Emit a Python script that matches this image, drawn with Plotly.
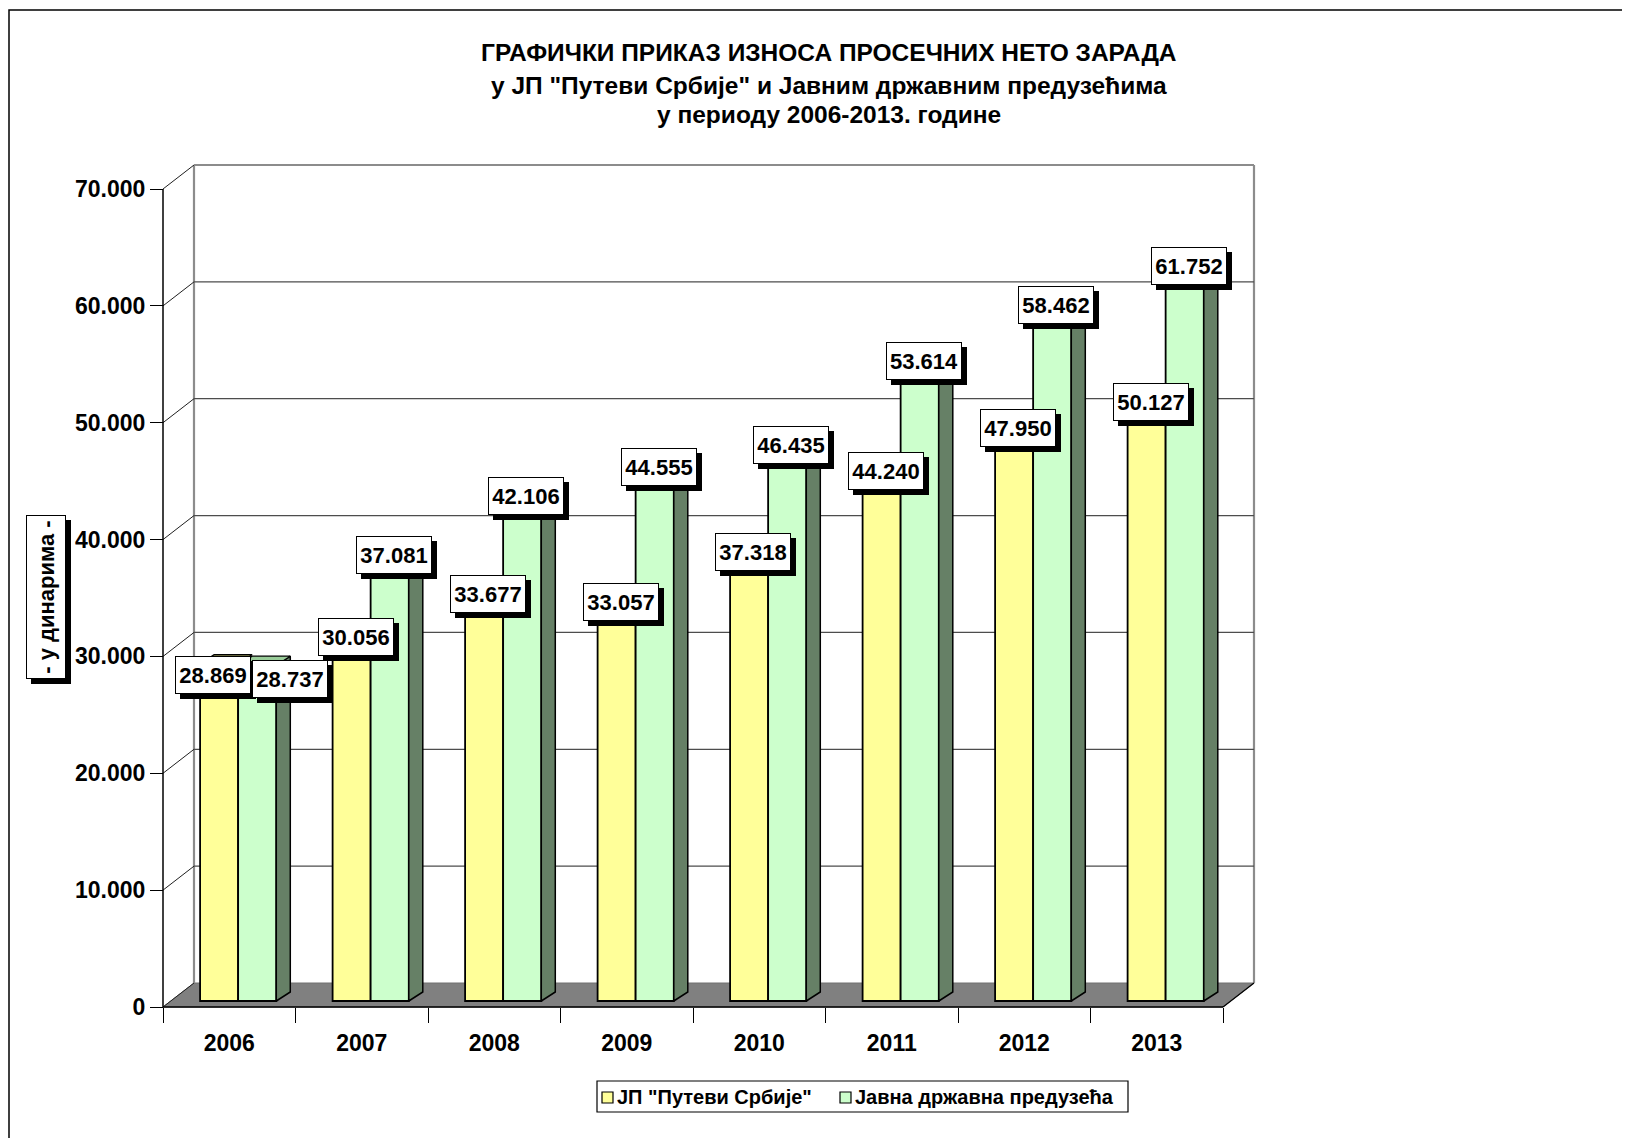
import plotly.graph_objects as go

# ---------------- data ----------------
years = ["2006", "2007", "2008", "2009", "2010", "2011", "2012", "2013"]
putevi = [28869, 30056, 33677, 33057, 37318, 44240, 47950, 50127]
javna = [28737, 37081, 42106, 44555, 46435, 53614, 58462, 61752]
y_tick_vals = [0, 10000, 20000, 30000, 40000, 50000, 60000, 70000]
y_tick_text = ["0", "10.000", "20.000", "30.000", "40.000", "50.000", "60.000", "70.000"]
series_names = ['ЈП "Путеви Србије"', "Јавна државна предузећа"]
title_lines = [
    "ГРАФИЧКИ ПРИКАЗ ИЗНОСА ПРОСЕЧНИХ НЕТО ЗАРАДА",
    'у ЈП "Путеви Србије" и Јавним државним предузећима',
    "у периоду 2006-2013. године",
]
y_title = "- у динарима -"

# ---------------- geometry (pixels, reference page coordinates) ----------------
OFF = 8  # default page margin of the html body
W, H = 1630 - OFF, 1138 - OFF
FONT = "Liberation Sans, Arial, sans-serif"
FRONT_X = 163.0 - OFF
ZERO_Y = 1007.0 - OFF
Y70 = 189.0 - OFF
CAT = (1223.0 - 163.0) / 8
PPU = (ZERO_Y - Y70) / 70000.0
DX = 31.0 / CAT
DY = 24.0 / PPU
x_lo = -7.0 / CAT
x_hi = 8 + DX + 5.0 / CAT
y_lo = -7.0 / PPU
y_hi = 70000 + DY + 5.0 / PPU
ml = FRONT_X + x_lo * CAT
mr = W - (FRONT_X + x_hi * CAT)
mt = ZERO_Y - y_hi * PPU
mb = H - (ZERO_Y - y_lo * PPU)
pw = W - ml - mr
ph = H - mt - mb


def px(x):  # reference page x -> paper
    return (x - OFF - ml) / pw


def py(y):  # reference page y -> paper
    return (H - mb - (y - OFF)) / ph


Y_L, Y_R = 0.28, 0.567
G_L, G_R = 0.567, 0.855
BASE = 6.0 / PPU
SDX = 14.0 / CAT
SDY = 9.0 / PPU

YELLOW = "#FFFF99"
GREEN = "#CCFFCC"
SIDE = "#668066"
YTOP = "#80804D"
GTOP = "#99CC99"

fig = go.Figure()

n = len(years)
fig.add_trace(go.Bar(
    x=[i + (Y_L + Y_R) / 2 for i in range(n)], y=putevi, base=BASE,
    width=Y_R - Y_L, name=series_names[0], showlegend=False,
    marker=dict(color=YELLOW, line=dict(color="black", width=1.8)),
    hoverinfo="skip",
))
fig.add_trace(go.Bar(
    x=[i + (G_L + G_R) / 2 for i in range(n)], y=javna, base=BASE,
    width=G_R - G_L, name=series_names[1], showlegend=False,
    marker=dict(color=GREEN, line=dict(color="black", width=1.8)),
    hoverinfo="skip",
))

# side faces of green bars
sx, sy = [], []
for i, v in enumerate(javna):
    xr = i + G_R
    t = BASE + v
    sx += [xr, xr + SDX, xr + SDX, xr, xr, None]
    sy += [BASE, BASE + SDY, t + SDY, t, BASE, None]
fig.add_trace(go.Scatter(x=sx, y=sy, mode="lines", fill="toself", fillcolor=SIDE,
                         line=dict(color="black", width=1.5), showlegend=False, hoverinfo="skip"))

# top faces
tx, ty = [], []
for i, (vy, vg) in enumerate(zip(putevi, javna)):
    xl, xr = i + Y_L, i + Y_R
    t, tg = BASE + vy, BASE + vg
    if tg >= t + SDY:
        tx += [xl, xl + SDX, xr, xr, xl, None]
    else:
        tx += [xl, xl + SDX, xr + SDX, xr, xl, None]
    ty += [t, t + SDY, t + SDY, t, t, None]
fig.add_trace(go.Scatter(x=tx, y=ty, mode="lines", fill="toself", fillcolor=YTOP,
                         line=dict(color="black", width=1.2), showlegend=False, hoverinfo="skip"))
gx, gy = [], []
for i, vg in enumerate(javna):
    xl, xr = i + G_L, i + G_R
    tg = BASE + vg
    gx += [xl, xl + SDX, xr + SDX, xr, xl, None]
    gy += [tg, tg + SDY, tg + SDY, tg, tg, None]
fig.add_trace(go.Scatter(x=gx, y=gy, mode="lines", fill="toself", fillcolor=GTOP,
                         line=dict(color="black", width=1.2), showlegend=False, hoverinfo="skip"))

# ---------------- walls, floor, axes (shapes below traces) ----------------
shapes = []
shapes.append(dict(type="path", xref="x", yref="y", layer="below",
                   path=f"M 0,0 L {n},0 L {n + DX},{DY} L {DX},{DY} Z",
                   fillcolor="#808080", line=dict(color="#707070", width=1)))
wall_top = 70000 + DY
for (a, b, c, d) in [(DX, DY, DX, wall_top), (DX, wall_top, n + DX, wall_top), (n + DX, DY, n + DX, wall_top)]:
    shapes.append(dict(type="line", xref="x", yref="y", layer="below",
                       x0=a, y0=b, x1=c, y1=d, line=dict(color="#8C8C8C", width=2.2)))
for v in y_tick_vals[1:-1]:
    shapes.append(dict(type="line", xref="x", yref="y", layer="below",
                       x0=DX, y0=v + DY, x1=n + DX, y1=v + DY, line=dict(color="#4D4D4D", width=1.2)))
for v in y_tick_vals:
    shapes.append(dict(type="line", xref="x", yref="y", layer="below",
                       x0=0, y0=v, x1=DX, y1=v + DY, line=dict(color="#202020", width=1)))
shapes.append(dict(type="line", xref="x", yref="y", layer="below",
                   x0=0, y0=0, x1=0, y1=70000, line=dict(color="black", width=1.5)))
shapes.append(dict(type="line", xref="x", yref="y", layer="below",
                   x0=0, y0=0, x1=n, y1=0, line=dict(color="black", width=1.5)))
shapes.append(dict(type="line", xref="x", yref="y", layer="below",
                   x0=n, y0=0, x1=n + DX, y1=DY, line=dict(color="black", width=1.2)))
# outer frame
shapes.append(dict(type="rect", xref="paper", yref="paper", layer="below",
                   x0=px(9), y0=py(1170), x1=px(1680), y1=py(10),
                   line=dict(color="black", width=1.5), fillcolor="rgba(0,0,0,0)"))

# legend (drawn by hand to match the compact box of the reference)
shapes.append(dict(type="rect", xref="paper", yref="paper", layer="above",
                   x0=px(597), y0=py(1112), x1=px(1128), y1=py(1081),
                   line=dict(color="black", width=1.2), fillcolor="white"))
for (x0, col) in [(602, YELLOW), (840, GREEN)]:
    shapes.append(dict(type="rect", xref="paper", yref="paper", layer="above",
                       x0=px(x0), y0=py(1103), x1=px(x0 + 11), y1=py(1092),
                       line=dict(color="black", width=1.2), fillcolor=col))

# ---------------- annotations ----------------
ann = []
for k, line in enumerate(title_lines):
    ann.append(dict(xref="paper", yref="paper", x=px(829), y=py([52, 85, 114][k]),
                    xanchor="center", yanchor="middle", showarrow=False, text=line,
                    font=dict(family=FONT, size=24.5, color="black", weight="bold")))

for (x0, name) in [(615, series_names[0]), (853, series_names[1])]:
    ann.append(dict(xref="paper", yref="paper", x=px(x0), y=py(1097),
                    xanchor="left", yanchor="middle", showarrow=False, text=name,
                    font=dict(family=FONT, size=20, color="black", weight="bold")))


def boxed(x, y, text, xs, ys, bw, bh, xref="x", yref="y", angle=0, size=22, pad=3):
    common = dict(xref=xref, yref=yref, x=x, y=y, showarrow=False,
                  xanchor="center", yanchor="middle", textangle=angle,
                  width=bw, height=bh, borderwidth=1, borderpad=pad, align="center")
    shadow = dict(common, text="\u00a0", xshift=xs + 5, yshift=ys - 5,
                  bgcolor="black", bordercolor="black",
                  font=dict(family=FONT, size=size, color="black"))
    main = dict(common, text=text, xshift=xs, yshift=ys,
                bgcolor="white", bordercolor="black",
                font=dict(family=FONT, size=size, color="black", weight="bold"))
    return [shadow, main]


def fmt(v):
    return f"{v:,}".replace(",", ".")


LBW, LBH = 68, 30
ylab, glab = [], []
for i, (vy, vg) in enumerate(zip(putevi, javna)):
    close = abs(vy - vg) * PPU < 40
    if close:
        ylab += boxed(i + (Y_L + Y_R) / 2, BASE + vy, fmt(vy), -6, -11, LBW, LBH)
        glab += boxed(i + (G_L + G_R) / 2, BASE + vg, fmt(vg), 33, -14, LBW, LBH)
    else:
        ylab += boxed(i + (Y_L + Y_R) / 2, BASE + vy, fmt(vy), 4, 13, LBW, LBH)
        glab += boxed(i + (G_L + G_R) / 2, BASE + vg, fmt(vg), 4, 13, LBW, LBH)
ann += ylab + glab

ann += boxed(px(46), py(597), y_title, 0, 0, 152, 28, xref="paper", yref="paper",
             angle=-90, size=22, pad=5)

fig.update_layout(
    width=W, height=H,
    margin=dict(l=ml, r=mr, t=mt, b=mb, pad=0, autoexpand=False),
    paper_bgcolor="white", plot_bgcolor="white",
    barmode="overlay",
    showlegend=False,
    xaxis=dict(range=[x_lo, x_hi], domain=[0, 1], showgrid=False, zeroline=False, showline=False,
               anchor="free", position=(0 - y_lo) / (y_hi - y_lo),
               tickmode="array", tickvals=[i + 0.5 for i in range(n)], ticktext=years,
               ticks="outside", ticklen=15, tickcolor="rgba(0,0,0,0)",
               tickfont=dict(family=FONT, size=23, color="black", weight="bold"),
               minor=dict(tickmode="array", tickvals=list(range(n + 1)), ticks="outside",
                          ticklen=15, tickcolor="black", tickwidth=1.2, showgrid=False),
               automargin=False, fixedrange=True),
    yaxis=dict(range=[y_lo, y_hi], domain=[0, 1], showgrid=False, zeroline=False, showline=False,
               anchor="free", position=(0 - x_lo) / (x_hi - x_lo),
               tickmode="array", tickvals=y_tick_vals, ticktext=y_tick_text,
               ticks="outside", ticklen=13, tickcolor="black", tickwidth=1.2,
               tickfont=dict(family=FONT, size=23, color="black", weight="bold"),
               automargin=False, fixedrange=True),
    shapes=shapes,
    annotations=ann,
)

fig.write_html("out.html")
